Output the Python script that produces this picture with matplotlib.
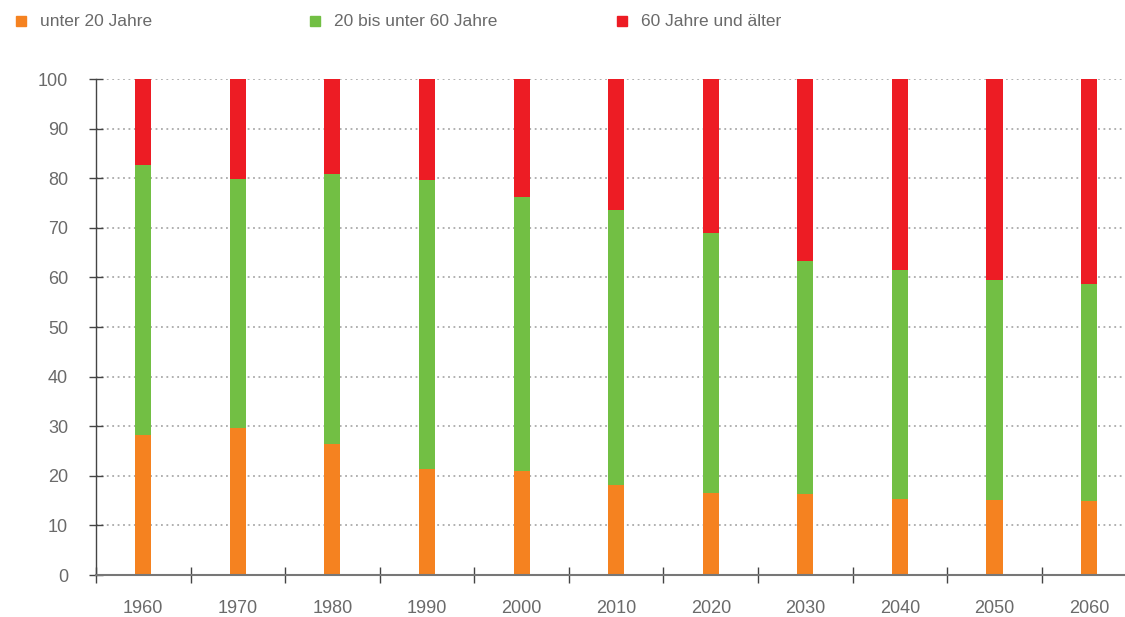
import numpy as np
import matplotlib
matplotlib.use("Agg")
import matplotlib.pyplot as plt
from matplotlib.patches import Rectangle

# Altersstruktur der Bevölkerung in %
jahre = ["1960", "1970", "1980", "1990", "2000", "2010", "2020", "2030", "2040", "2050", "2060"]
unter_20 = [28.2, 29.7, 26.5, 21.4, 21.0, 18.1, 16.5, 16.4, 15.3, 15.2, 14.9]
bis_60 = [54.5, 50.1, 54.3, 58.2, 55.2, 55.5, 52.5, 46.9, 46.2, 44.3, 43.8]
ab_60 = [100 - a - b for a, b in zip(unter_20, bis_60)]
namen = ["unter 20 Jahre", "20 bis unter 60 Jahre", "60 Jahre und älter"]

farben = ["#F58220", "#72BF44", "#ED1C24"]
textfarbe = "#6a6a6a"

plt.rcParams['font.family'] = ['Liberation Sans', 'DejaVu Sans']

fig = plt.figure(figsize=(11.25, 6.17), dpi=100)
ax = fig.add_axes([96 / 1125, 42 / 617, 1 - 96 / 1125, (575 - 79) / 617])

x = np.arange(len(jahre))
b = 0.17
ax.bar(x, unter_20, width=b, color=farben[0], zorder=3)
ax.bar(x, bis_60, width=b, bottom=unter_20, color=farben[1], zorder=3)
ax.bar(x, ab_60, width=b, bottom=np.array(unter_20) + np.array(bis_60), color=farben[2], zorder=3)

ax.set_xlim(-0.5, 10.38)
ax.set_ylim(0, 100)

for y in range(10, 101, 10):
    ax.axhline(y, color="#aaaaaa", lw=1.3, ls=(0, (1, 2)), zorder=1)

ax.set_yticks(range(0, 101, 10))
ax.tick_params(axis="y", direction="inout", length=10, width=1, color="#444444",
               labelsize=13, labelcolor=textfarbe, pad=15)
ax.set_xticks(x)
ax.set_xticklabels(jahre)
ax.tick_params(axis="x", which="major", length=0, labelsize=13, labelcolor=textfarbe, pad=18)
ax.set_xticks(np.arange(-0.5, 10.4, 1), minor=True)
ax.tick_params(axis="x", which="minor", direction="inout", length=11, width=1, color="#444444")

for s in ["top", "right"]:
    ax.spines[s].set_visible(False)
ax.spines["left"].set_color("#444444")
ax.spines["left"].set_linewidth(1)
ax.spines["bottom"].set_color("#777777")
ax.spines["bottom"].set_linewidth(1.5)
ax.spines["bottom"].set_zorder(4)

# Legende oben
legend_x = [16, 310, 617]
for lx, name, farbe in zip(legend_x, namen, farben):
    fig.patches.append(Rectangle((lx / 1125, (617 - 26) / 617), 10 / 1125, 10 / 617,
                                 transform=fig.transFigure, color=farbe))
    fig.text((lx + 24) / 1125, (617 - 21) / 617, name, fontsize=12.5, color=textfarbe,
             va="center", ha="left")

fig.savefig("out.png", dpi=100)
